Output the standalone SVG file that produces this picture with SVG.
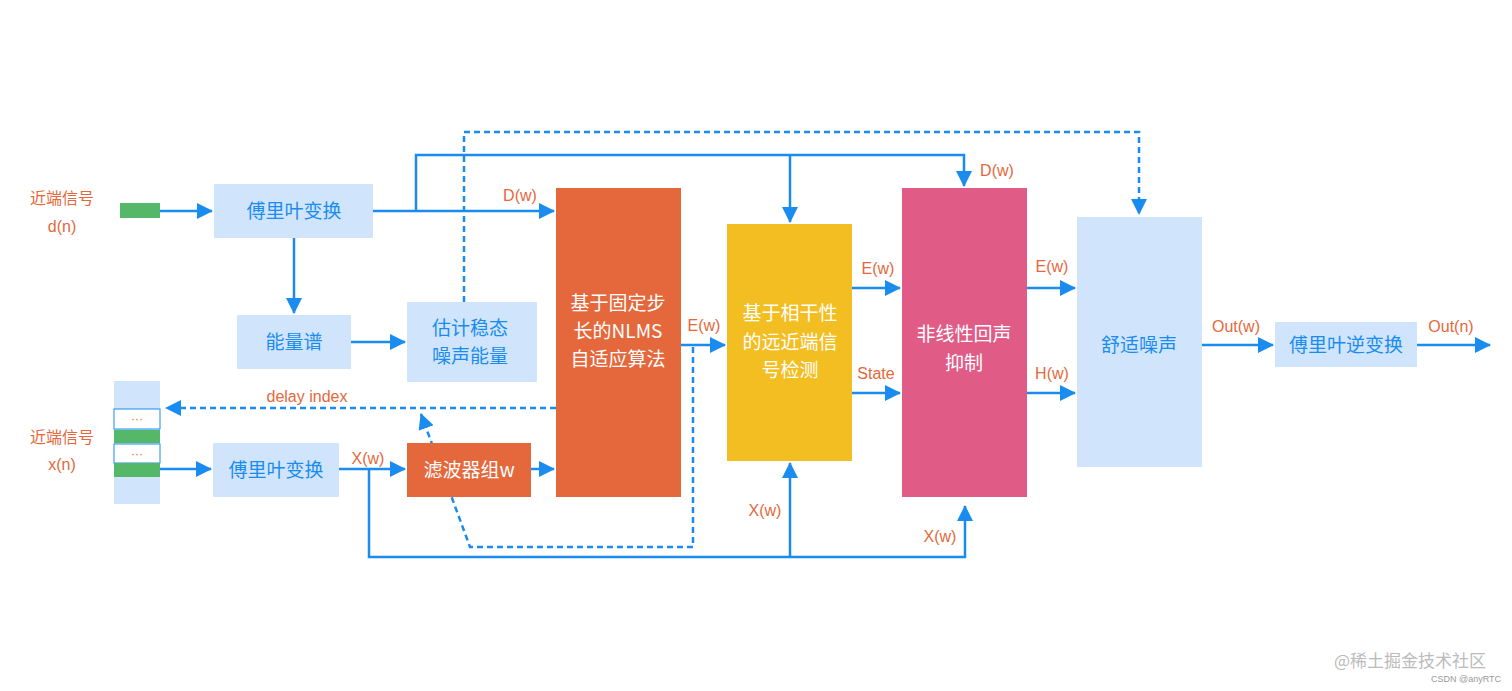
<svg xmlns="http://www.w3.org/2000/svg" width="1512" height="691" viewBox="0 0 1512 691">
<style>
.l{fill:#E5683C;font-family:"Liberation Sans","Noto Sans CJK SC",sans-serif;font-size:16px;text-anchor:middle}
.t{fill:#1A8CF0;font-family:"Noto Sans CJK SC",sans-serif;font-size:19px;text-anchor:middle}
.w{fill:#fff;font-family:"Noto Sans CJK SC",sans-serif;font-size:19px;text-anchor:middle}
.lb{fill:#D0E5FB}
.c{stroke:#1A8CF0;stroke-width:2.5;fill:none}
.d{stroke:#1A8CF0;stroke-width:2.5;fill:none;stroke-dasharray:6 4}
</style>
<defs><marker id="a" markerWidth="8" markerHeight="8" refX="7" refY="4" orient="auto" markerUnits="userSpaceOnUse" viewBox="0 0 8 8"><path d="M0,0L8,4L0,8z" fill="#1A8CF0"/></marker>
<marker id="b" markerWidth="16" markerHeight="16" refX="15" refY="8" orient="auto" markerUnits="userSpaceOnUse" viewBox="0 0 16 16"><path d="M0,0L16,8L0,16z" fill="#1A8CF0"/></marker></defs>
<rect width="1512" height="691" fill="#fff"/>
<g id="connectors">
<path class="c" d="M160,211H212" marker-end="url(#b)"/>
<path class="c" d="M373,211H554" marker-end="url(#b)"/>
<path class="c" d="M416,211V155H964V186" marker-end="url(#b)"/>
<path class="c" d="M790,155V222" marker-end="url(#b)"/>
<path class="c" d="M294,238V313" marker-end="url(#b)"/>
<path class="c" d="M351,342H405" marker-end="url(#b)"/>
<path class="d" d="M464,302V132H1139V214" marker-end="url(#b)"/>
<path class="c" d="M681,345H725" marker-end="url(#b)"/>
<path class="d" d="M693,347V547H470L421,414" marker-end="url(#b)"/>
<path class="d" d="M556,408H166" marker-end="url(#b)"/>
<path class="c" d="M160,469H211" marker-end="url(#b)"/>
<path class="c" d="M339,469H405" marker-end="url(#b)"/>
<path class="c" d="M531,469H554" marker-end="url(#b)"/>
<path class="c" d="M369,469V557H965V506" marker-end="url(#b)"/>
<path class="c" d="M790,557V463" marker-end="url(#b)"/>
<path class="c" d="M852,288H900" marker-end="url(#b)"/>
<path class="c" d="M852,393H900" marker-end="url(#b)"/>
<path class="c" d="M1027,288H1075" marker-end="url(#b)"/>
<path class="c" d="M1027,393H1075" marker-end="url(#b)"/>
<path class="c" d="M1202,345H1273" marker-end="url(#b)"/>
<path class="c" d="M1417,345H1490" marker-end="url(#b)"/>
</g>
<g id="labels">
<text class="l" x="62" y="204" font-size="19">近端信号</text><text class="l" x="62" y="232" font-size="19">d(n)</text>
<text class="l" x="62" y="443" font-size="19">近端信号</text><text class="l" x="62" y="470" font-size="19">x(n)</text>
<text class="l" x="520" y="201">D(w)</text>
<text class="l" x="997" y="176">D(w)</text>
<text class="l" x="704" y="331">E(w)</text>
<text class="l" x="307" y="402" font-size="18">delay index</text>
<text class="l" x="368" y="464">X(w)</text>
<text class="l" x="765" y="516">X(w)</text>
<text class="l" x="940" y="542">X(w)</text>
<text class="l" x="878" y="274">E(w)</text>
<text class="l" x="876" y="379">State</text>
<text class="l" x="1052" y="272">E(w)</text>
<text class="l" x="1052" y="379">H(w)</text>
<text class="l" x="1236" y="332">Out(w)</text>
<text class="l" x="1451" y="332">Out(n)</text>
</g>
<g id="dsig"><rect x="120" y="203" width="40" height="15" fill="#55B868"/></g>
<g id="buffer"><rect class="lb" x="114" y="381" width="46" height="123"/>
<rect x="114" y="409" width="46" height="20" fill="#fff" stroke="#1A8CF0" stroke-width="1"/>
<rect x="114" y="430" width="46" height="13" fill="#55B868"/>
<rect x="114" y="444" width="46" height="19" fill="#fff" stroke="#1A8CF0" stroke-width="1"/>
<rect x="114" y="463" width="46" height="14" fill="#55B868"/>
<text x="137" y="423" fill="#E5683C" font-family="Liberation Sans" font-size="12" text-anchor="middle">···</text>
<text x="137" y="458" fill="#E5683C" font-family="Liberation Sans" font-size="12" text-anchor="middle">···</text></g>
<g id="fft1"><rect class="lb" x="214" y="184" width="159" height="54"/><text class="t" x="294" y="218">傅里叶变换</text></g>
<g id="energy"><rect class="lb" x="237" y="315" width="114" height="54"/><text class="t" x="294" y="349">能量谱</text></g>
<g id="estimate"><rect class="lb" x="407" y="302" width="130" height="80"/><text class="t" x="470" y="335">估计稳态</text><text class="t" x="470" y="363">噪声能量</text></g>
<g id="fft2"><rect class="lb" x="213" y="443" width="126" height="54"/><text class="t" x="276" y="477">傅里叶变换</text></g>
<g id="filter"><rect x="407" y="443" width="124" height="54" fill="#E5683C"/><text class="w" x="469" y="477">滤波器组w</text></g>
<g id="nlms"><rect x="556" y="188" width="125" height="309" fill="#E5683C"/><text class="w" x="618" y="310">基于固定步</text><text class="w" x="618" y="338">长的NLMS</text><text class="w" x="618" y="366">自适应算法</text></g>
<g id="detect"><rect x="727" y="224" width="125" height="237" fill="#F2BE22"/><text class="w" x="790" y="320">基于相干性</text><text class="w" x="790" y="349">的远近端信</text><text class="w" x="790" y="377">号检测</text></g>
<g id="nonlinear"><rect x="902" y="188" width="125" height="309" fill="#E05C87"/><text class="w" x="964" y="341">非线性回声</text><text class="w" x="964" y="370">抑制</text></g>
<g id="comfort"><rect class="lb" x="1077" y="217" width="125" height="250"/><text class="t" x="1139" y="352">舒适噪声</text></g>
<g id="ifft"><rect class="lb" x="1275" y="322" width="142" height="45"/><text class="t" x="1346" y="352">傅里叶逆变换</text></g>
<text x="1410" y="667" fill="#bbb" font-family="Noto Sans CJK SC,sans-serif" font-size="17" text-anchor="middle">@稀土掘金技术社区</text>
<text x="1466" y="682" fill="#999" font-family="Liberation Sans,sans-serif" font-size="9" text-anchor="middle">CSDN @anyRTC</text>
</svg>
